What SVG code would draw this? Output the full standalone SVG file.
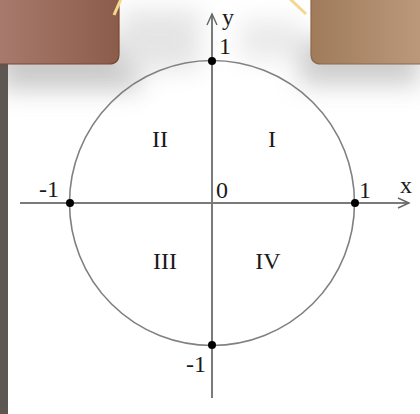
<svg xmlns="http://www.w3.org/2000/svg" width="420" height="414" viewBox="0 0 420 414">
<defs>
<linearGradient id="gL" x1="0" y1="0" x2="1" y2="0"><stop offset="0" stop-color="#a87a6d"/><stop offset="1" stop-color="#8b5c4a"/></linearGradient>
<linearGradient id="gR" x1="0" y1="0" x2="1" y2="0"><stop offset="0" stop-color="#9f7b5b"/><stop offset="1" stop-color="#bc997b"/></linearGradient>
<filter id="blur" x="-50%" y="-50%" width="200%" height="200%"><feGaussianBlur stdDeviation="12"/></filter>
<marker id="arr" markerWidth="14" markerHeight="12" refX="12" refY="6" orient="auto" markerUnits="userSpaceOnUse"><path d="M1,1 L12,6 L1,11" fill="none" stroke="#666" stroke-width="1.4"/></marker>
</defs>
<style>
.ax{stroke:#7a7a7a;stroke-width:2;fill:none}
.t{font-family:"Liberation Serif","Times New Roman",serif;fill:#1a1a1a}
.dot{fill:#000}
</style>
<rect width="420" height="414" fill="#fff"/>
<g filter="url(#blur)" opacity="0.9">
<rect x="0" y="40" width="140" height="50" fill="#c4c4c4"/>
<rect x="120" y="10" width="80" height="60" fill="#e2e2e2"/>
<rect x="300" y="40" width="120" height="45" fill="#c8c8c8"/>
<rect x="240" y="20" width="60" height="40" fill="#e8e8e8"/>
</g>
<rect x="0" y="64" width="8" height="350" fill="#5e5650"/>
<path d="M-2,-2 H119 V54 Q119,64 109,64 H-2 Z" fill="url(#gL)" stroke="#7d4632" stroke-width="1.2"/>
<path d="M422,-2 H311 V54 Q311,64 321,64 H422 Z" fill="url(#gR)" stroke="#8e6848" stroke-width="1.2"/>
<line x1="114" y1="15" x2="121" y2="-1" stroke="#f4d88e" stroke-width="3"/>
<line x1="290" y1="-1" x2="306" y2="14" stroke="#f4d88e" stroke-width="3"/>
<g id="circle"><circle cx="212" cy="203" r="142.5" fill="none" stroke="#808080" stroke-width="1.6"/></g>
<g id="connectors">
<line class="ax" x1="20" y1="203" x2="409" y2="203" marker-end="url(#arr)"/>
<line class="ax" x1="212" y1="398" x2="212" y2="14" marker-end="url(#arr)"/>
</g>
<g id="points">
<circle class="dot" cx="212" cy="61" r="4"/>
<circle class="dot" cx="212" cy="345" r="4"/>
<circle class="dot" cx="70" cy="203" r="4"/>
<circle class="dot" cx="355" cy="203" r="4"/>
</g>
<g id="labels" font-size="24">
<text class="t" x="222" y="25">y</text>
<text class="t" x="219" y="54">1</text>
<text class="t" x="39" y="197">-1</text>
<text class="t" x="216" y="198">0</text>
<text class="t" x="359" y="198">1</text>
<text class="t" x="400" y="193">x</text>
<text class="t" x="186" y="372">-1</text>
<text class="t" x="160" y="147" text-anchor="middle">II</text>
<text class="t" x="272" y="147" text-anchor="middle">I</text>
<text class="t" x="165" y="269" text-anchor="middle">III</text>
<text class="t" x="268" y="269" text-anchor="middle">IV</text>
</g>
</svg>
